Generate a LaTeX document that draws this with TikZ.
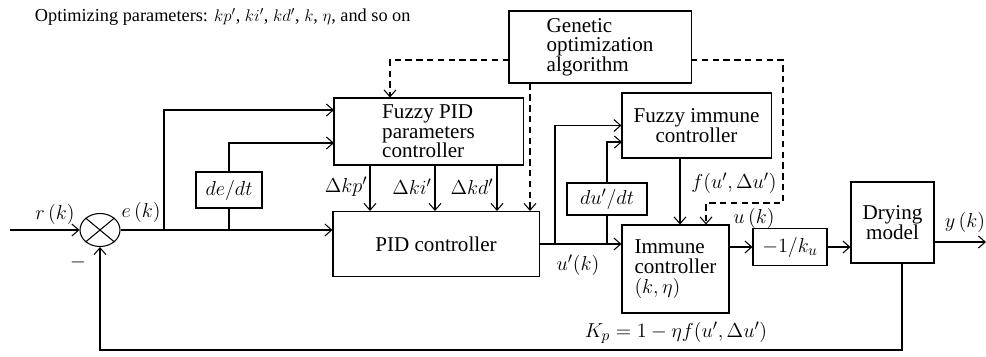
\documentclass[tikz,border=0pt]{standalone}
\usepackage{fontspec}
\setmainfont{Liberation Serif}
\usetikzlibrary{arrows.meta,shapes.geometric}

\tikzset{
  blockbox/.style={draw, rectangle, inner sep=0pt, align=center},
  sumjunction/.style={draw, ellipse, inner sep=0pt, minimum width=1cm, minimum height=0.825cm},
  sig/.style={inner sep=1pt},
  gadash/.style={dashed, dash pattern=on 1.6mm off 1.1mm},
}

\begin{document}
\begin{tikzpicture}[x=0.025cm, y=-0.025cm, line width=0.75pt,
    >={Straight Barb[length=1.7mm,width=3mm]},
    font=\fontsize{15}{14}\selectfont]
  \useasboundingbox (0,0) rectangle (986,356);

  % Blocks (sizes in cm, positions in pixels)
  \node[blockbox, minimum width=4.55cm, minimum height=1.8cm, align=left] (ga) at (600,47) {Genetic\\optimization\\algorithm};
  \node[blockbox, minimum width=4.725cm, minimum height=1.675cm, align=left] (fpid) at (428.5,131.5) {Fuzzy PID\\parameters\\controller};
  \node[blockbox, minimum width=5.15cm, minimum height=1.625cm] (pid) at (436,244) {PID controller};
  \node[blockbox, minimum width=3.725cm, minimum height=1.625cm] (fimm) at (696.5,125.5) {Fuzzy immune\\controller};
  \node[blockbox, minimum width=2.675cm, minimum height=2.2cm, align=left] (imm) at (675.5,269) {Immune\\controller\\$(k,\eta)$};
  \node[blockbox, minimum width=1.85cm, minimum height=0.925cm] (ku) at (790,247) {$-1/k_u$};
  \node[blockbox, minimum width=2.075cm, minimum height=2.025cm] (dry) at (892.5,222.5) {Drying\\model};
  \node[blockbox, minimum width=1.65cm, minimum height=0.9cm] (dedt) at (229,190) {$de/dt$};
  \node[blockbox, minimum width=2cm, minimum height=0.8cm] (dudt) at (607,199) {$du'/dt$};

  % Summing junction
  \node[sumjunction] (sum) at (100,230) {};
  \draw (sum.north west) -- (sum.south east) (sum.north east) -- (sum.south west);

  % Branch points and line positions
  \coordinate (rin) at (10,230);
  \coordinate (e1) at (164,230);
  \coordinate (e2) at (229,230);
  \coordinate (fpidin1) at (334,110);
  \coordinate (fpidin2) at (334,143);
  \coordinate (dkpx) at (370,0);
  \coordinate (dkix) at (435,0);
  \coordinate (dkdx) at (497,0);
  \coordinate (u1) at (555,244);
  \coordinate (u2) at (607,244);
  \coordinate (fimmin2) at (622,142);
  \coordinate (fx) at (680,0);
  \coordinate (yout) at (986,242);
  \coordinate (fbx) at (902,0);
  \coordinate (fby) at (0,350);

  % Main loop
  \draw[->] (rin) -- (sum.west);
  \draw[->] (sum.east) -- (pid.west |- sum);
  \draw[->] (e1) |- (fpidin1);
  \draw (e2) -- (dedt);
  \draw[->] (dedt) |- (fpidin2);
  \draw[->] (fpid.south -| dkpx) -- (pid.north -| dkpx);
  \draw[->] (fpid.south -| dkix) -- (pid.north -| dkix);
  \draw[->] (fpid.south -| dkdx) -- (pid.north -| dkdx);
  \draw[->] (pid.east) -- (imm.west |- pid.east);
  \draw[->] (u1) |- (fimm.west);
  \draw (u2) -- (dudt);
  \draw[->] (dudt) |- (fimmin2);
  \draw[->] (fimm.south -| fx) -- (imm.north -| fx);
  \draw[->] (imm.east |- ku) -- (ku.west);
  \draw[->] (ku.east) -- (dry.west |- ku);
  \draw[->] (dry.east |- yout) -- (yout);
  \draw[->] (dry.south -| fbx) |- (sum.south |- fby) -- (sum.south);

  % Optimizer links
  \coordinate (gaw) at (509,60);
  \coordinate (gae) at (691,60);
  \coordinate (dx1) at (390,0);
  \coordinate (dx2) at (530,0);
  \coordinate (dcorner) at (783,203);
  \coordinate (dx3) at (706,0);
  \draw[gadash, ->] (gaw) -| (fpid.north -| dx1);
  \draw[gadash, ->] (ga.south -| dx2) -- (pid.north -| dx2);
  \draw[gadash, ->] (gae) -| (dcorner) -| (imm.north -| dx3);

  % Signal labels
  \node[sig] (lr) at (55,214) {$r\,(k)$};
  \node[sig] (le) at (141,212) {$e\,(k)$};
  \node[sig] (lminus) at (78,262) {$-$};
  \node[sig] (ldkp) at (346,187) {$\Delta kp'$};
  \node[sig] (ldki) at (412,187) {$\Delta ki'$};
  \node[sig] (ldkd) at (472,187) {$\Delta kd'$};
  \node[sig] (lu1) at (578,265) {$u'(k)$};
  \node[sig] (lf) at (734,183) {$f(u',\Delta u')$};
  \node[sig] (lu) at (754,218) {$u\,(k)$};
  \node[sig] (ly) at (965,222) {$y\,(k)$};
  \node[sig] (lkp) at (676,333) {$K_p = 1-\eta f(u',\Delta u')$};
  \node[sig, anchor=west, font=\fontsize{13}{14}\selectfont] (title) at (33,17) {Optimizing parameters: $kp'$, $ki'$, $kd'$, $k$, $\eta$, and so on};
\end{tikzpicture}
\end{document}
